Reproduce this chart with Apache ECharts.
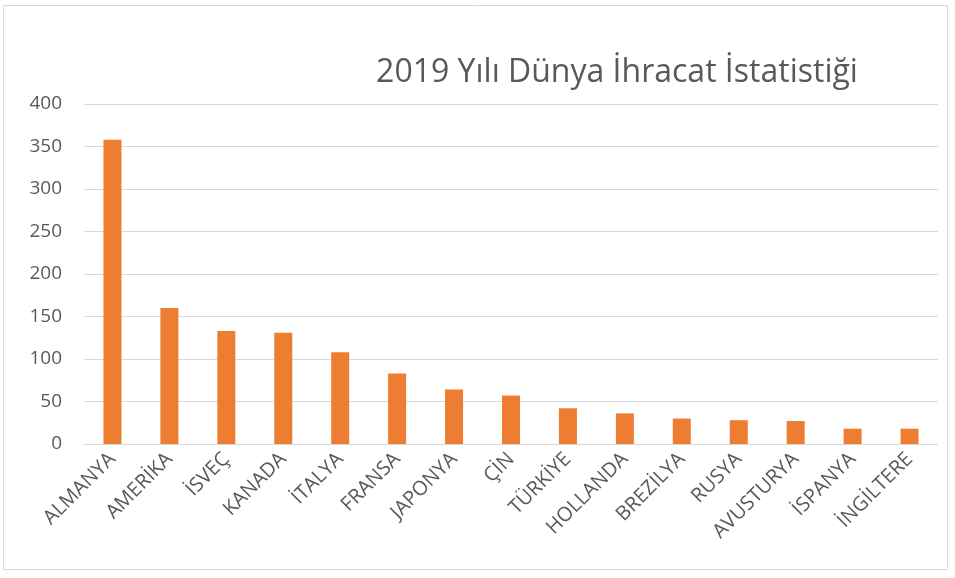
<!DOCTYPE html>
<html><head><meta charset="utf-8">
<script src="https://cdn.jsdelivr.net/npm/echarts@6/dist/echarts.min.js"></script>
<style>html,body{margin:0;padding:0;background:#fff}#c{width:955px;height:578px}</style>
</head><body><div id="c"></div>
<script>
const categories = ["ALMANYA","AMERİKA","İSVEÇ","KANADA","İTALYA","FRANSA","JAPONYA","ÇİN","TÜRKİYE","HOLLANDA","BREZİLYA","RUSYA","AVUSTURYA","İSPANYA","İNGİLTERE"];
const values = [358,160,133,131,108,83,64,57,42,36,30,28,27,18,18];
const titleText = "2019 Yılı Dünya İhracat İstatistiği";
const chart = echarts.init(document.getElementById('c'));
chart.setOption({
  animation:false,
  backgroundColor:'#fff',
  title:{text:titleText,left:612,top:52,textAlign:'center',textStyle:{fontFamily:'Open Sans',fontSize:32,fontWeight:'normal',color:'#595959'}},
  graphic:[{type:'rect',shape:{x:3.5,y:5.5,width:944,height:564},style:{fill:'none',stroke:'#d9d9d9',lineWidth:1}}],
  grid:{left:84,right:17,top:104,bottom:134},
  xAxis:{type:'category',data:categories,axisTick:{show:false},axisLine:{lineStyle:{color:'#d9d9d9',width:1}},
    axisLabel:{rotate:45,color:'#595959',fontFamily:'Open Sans',fontSize:20,interval:0,margin:12}},
  yAxis:{type:'value',min:0,max:400,interval:50,axisLine:{show:false},axisTick:{show:false},
    splitLine:{lineStyle:{color:'#d9d9d9',width:1}},
    axisLabel:{color:'#595959',fontFamily:'Open Sans',fontSize:19,margin:22}},
  series:[{type:'bar',data:values,barWidth:18,itemStyle:{color:'#ED7D31'}}]
});
</script></body></html>
